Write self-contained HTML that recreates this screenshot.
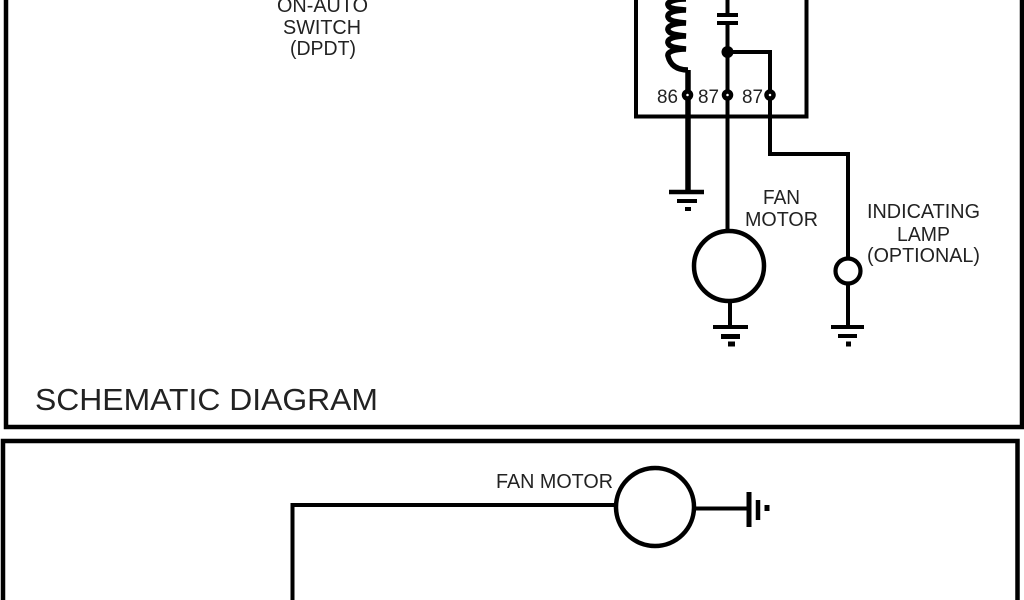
<!DOCTYPE html>
<html>
<head>
<meta charset="utf-8">
<style>
html,body{margin:0;padding:0;background:#fff;width:1024px;height:600px;overflow:hidden}
svg{display:block}
text{font-family:"Liberation Sans",sans-serif;fill:#222;text-anchor:start}
</style>
</head>
<body>
<svg width="1024" height="600" viewBox="0 0 1024 600" xmlns="http://www.w3.org/2000/svg">
<rect width="1024" height="600" fill="#fff"/>
<g fill="none" stroke="#000" stroke-linejoin="miter">
  <!-- panels -->
  <path d="M6 -5V427H1022V-5" stroke-width="4.500"/>
  <path d="M3 605V441H1017.500V605" stroke-width="4.500"/>
  <!-- relay box -->
  <path d="M636 -5V116.500H806.500V-5" stroke-width="4"/>
  <!-- coil -->
  <path d="M686 -1C674 -1 667 2 668 5C669 9 676 9 686 10C674 10 667 13 668 17C669 21 676 22 686 23C674 23 667 26 668 30C669 34 676 35 686 36C674 36 667 39 668 43C669 47 676 48 686 49C674 49 667 52 668 56C669 60 672 70 688 70" stroke-width="5.500"/>
  <path d="M688 70V192" stroke-width="5.500"/>
  <!-- capacitor and center wire -->
  <path d="M727.500 -5V15M727.500 23V232" stroke-width="4"/>
  <path d="M717 15H738M717 23H738" stroke-width="4"/>
  <!-- 87a wire -->
  <path d="M727.500 52H770V154H848V258" stroke-width="4"/>
  <!-- grounds -->
  <path d="M669 192H704" stroke-width="4.500"/>
  <path d="M677 201H697" stroke-width="4"/>
  <path d="M685 209H691" stroke-width="4"/>
  <!-- motor 1 -->
  <circle cx="729" cy="266" r="35" stroke-width="4.500"/>
  <path d="M730 303V327" stroke-width="4"/>
  <path d="M713 327H748" stroke-width="4"/>
  <path d="M721 336.500H740" stroke-width="5"/>
  <path d="M728 344H735" stroke-width="5"/>
  <!-- lamp -->
  <circle cx="848" cy="271" r="12.500" stroke-width="4.200"/>
  <path d="M848 284V327" stroke-width="4"/>
  <path d="M831 327H864" stroke-width="4"/>
  <path d="M838 336H857" stroke-width="4"/>
  <path d="M846 344H851" stroke-width="5"/>
  <!-- lower diagram -->
  <path d="M292.500 600V505H616" stroke-width="4"/>
  <circle cx="655" cy="507" r="39" stroke-width="4.500"/>
  <path d="M695 508.500H749" stroke-width="4"/>
  <path d="M749 492V527" stroke-width="5"/>
  <path d="M758 500V520" stroke-width="4.500"/>
  <path d="M767 505V511" stroke-width="5"/>
</g>
<!-- junctions and terminals -->
<circle cx="727.500" cy="52" r="6" fill="#000"/>
<g fill="#fff" stroke="#000" stroke-width="4.500">
  <circle cx="687.500" cy="95" r="3.500"/>
  <circle cx="727.500" cy="95" r="3.500"/>
  <circle cx="770" cy="95" r="3.500"/>
</g>
<!-- labels -->
<g font-size="20.500">
  <text x="277" y="12" textLength="91" lengthAdjust="spacingAndGlyphs">ON-AUTO</text>
  <text x="283" y="34" textLength="78" lengthAdjust="spacingAndGlyphs">SWITCH</text>
  <text x="290" y="55" textLength="66" lengthAdjust="spacingAndGlyphs">(DPDT)</text>
  <text x="763" y="204" textLength="37" lengthAdjust="spacingAndGlyphs">FAN</text>
  <text x="745" y="226" textLength="73" lengthAdjust="spacingAndGlyphs">MOTOR</text>
  <text x="867" y="218" textLength="113" lengthAdjust="spacingAndGlyphs">INDICATING</text>
  <text x="897" y="241" textLength="53" lengthAdjust="spacingAndGlyphs">LAMP</text>
  <text x="867" y="262" textLength="113" lengthAdjust="spacingAndGlyphs">(OPTIONAL)</text>
  <text x="496" y="488" textLength="117" lengthAdjust="spacingAndGlyphs">FAN MOTOR</text>
</g>
<g font-size="19.500">
  <text x="657" y="103" textLength="21" lengthAdjust="spacingAndGlyphs">86</text>
  <text x="698" y="103" textLength="21" lengthAdjust="spacingAndGlyphs">87</text>
  <text x="742" y="103" textLength="21" lengthAdjust="spacingAndGlyphs">87</text>
</g>
<text x="35" y="410" font-size="31" textLength="343" lengthAdjust="spacingAndGlyphs">SCHEMATIC DIAGRAM</text>
</svg>
</body>
</html>
